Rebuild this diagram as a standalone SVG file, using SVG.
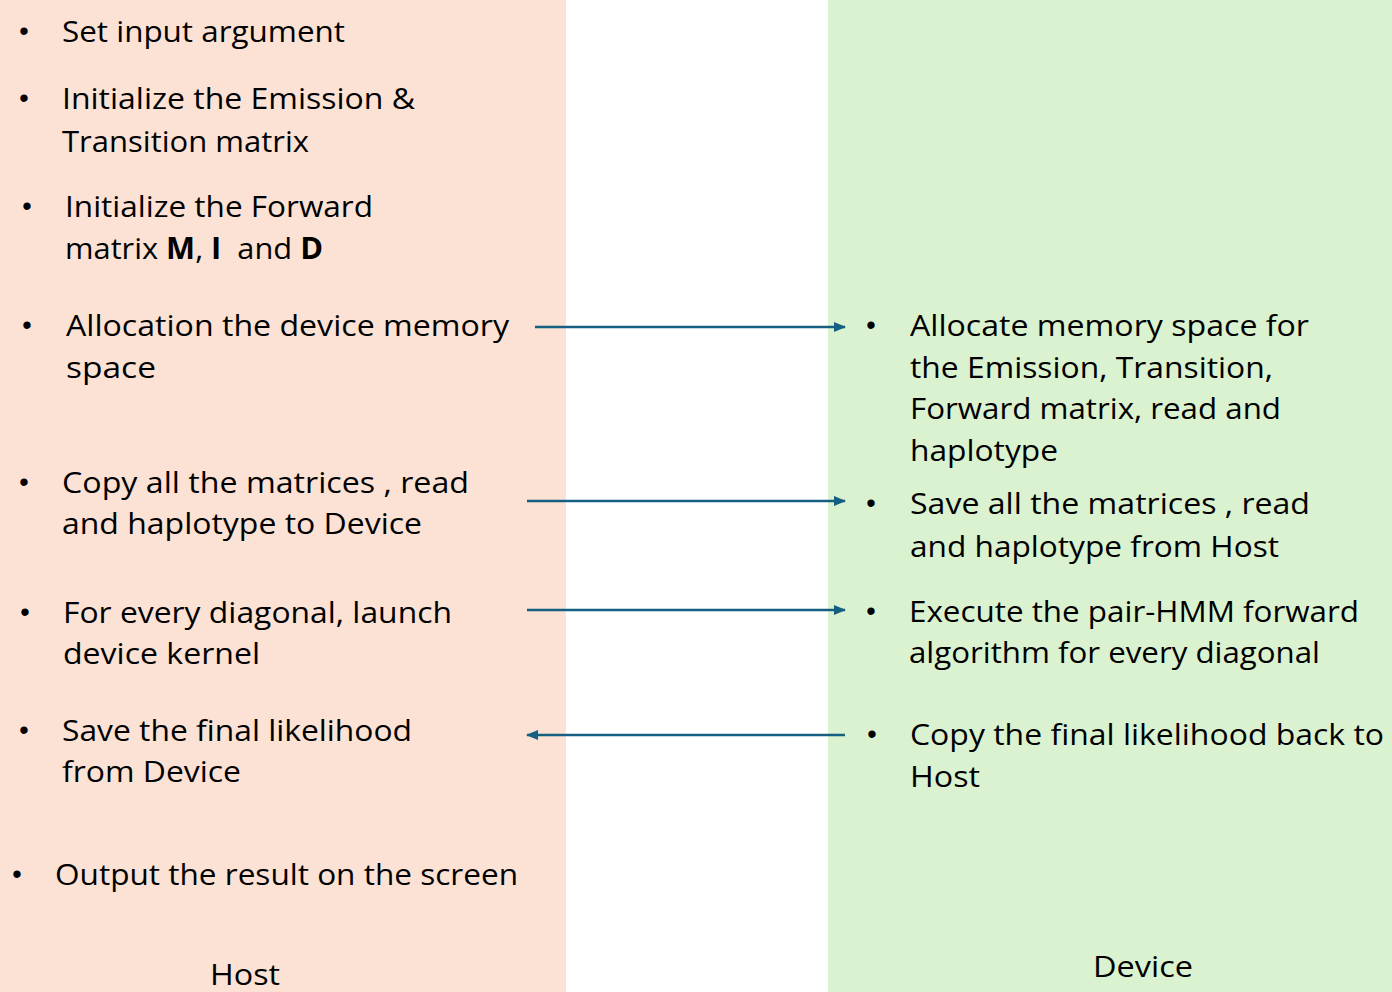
<svg xmlns="http://www.w3.org/2000/svg" width="1392" height="992" viewBox="0 0 1392 992">
<style>
text{font-family:"Open Sans","Noto Sans","Liberation Sans",sans-serif;font-size:30px;fill:#000}
text.b{text-anchor:middle;font-family:"Liberation Sans",Arial,sans-serif;font-size:27px}
.bold{font-weight:700}
.conn{stroke:#156082;stroke-width:2.6;fill:none}
</style>
<defs>
<marker id="ah" viewBox="0 0 12 10" refX="11" refY="5" markerWidth="12" markerHeight="10" markerUnits="userSpaceOnUse" orient="auto-start-reverse">
<path d="M0,0 L12,5 L0,10 Z" fill="#156082"/>
</marker>
</defs>
<rect id="host-panel" x="0" y="0" width="566" height="992" fill="#FBE2D5"/>
<rect id="device-panel" x="828" y="0" width="564" height="992" fill="#DAF2D0"/>

<g id="h1"><text class="b" x="24" y="40">•</text><text x="62" y="42" textLength="283" lengthAdjust="spacingAndGlyphs">Set input argument</text></g>
<g id="h2"><text class="b" x="24" y="107">•</text><text x="62" y="109" textLength="353" lengthAdjust="spacingAndGlyphs">Initialize the Emission &amp;</text><text x="62" y="152" textLength="247" lengthAdjust="spacingAndGlyphs">Transition matrix</text></g>
<g id="h3"><text class="b" x="27" y="215">•</text><text x="65" y="217" textLength="308" lengthAdjust="spacingAndGlyphs">Initialize the Forward</text><text x="65" y="259" textLength="258" lengthAdjust="spacingAndGlyphs">matrix <tspan class="bold">M</tspan>, <tspan class="bold">I</tspan>&#160; and <tspan class="bold">D</tspan></text></g>
<g id="h4"><text class="b" x="27" y="334">•</text><text x="66" y="336" textLength="443" lengthAdjust="spacingAndGlyphs">Allocation the device memory</text><text x="66" y="378" textLength="90" lengthAdjust="spacingAndGlyphs">space</text></g>
<g id="h5"><text class="b" x="24" y="491">•</text><text x="62" y="493" textLength="407" lengthAdjust="spacingAndGlyphs">Copy all the matrices , read</text><text x="62" y="534" textLength="360" lengthAdjust="spacingAndGlyphs">and haplotype to Device</text></g>
<g id="h6"><text class="b" x="25" y="621">•</text><text x="63" y="623" textLength="389" lengthAdjust="spacingAndGlyphs">For every diagonal, launch</text><text x="63" y="664" textLength="197" lengthAdjust="spacingAndGlyphs">device kernel</text></g>
<g id="h7"><text class="b" x="24" y="739">•</text><text x="62" y="741" textLength="350" lengthAdjust="spacingAndGlyphs">Save the final likelihood</text><text x="62" y="782" textLength="179" lengthAdjust="spacingAndGlyphs">from Device</text></g>
<g id="h8"><text class="b" x="17" y="883">•</text><text x="55" y="885" textLength="463" lengthAdjust="spacingAndGlyphs">Output the result on the screen</text></g>
<g id="host-label"><text x="210" y="985" textLength="70" lengthAdjust="spacingAndGlyphs">Host</text></g>

<g id="d1"><text class="b" x="871" y="334">•</text><text x="910" y="336" textLength="399" lengthAdjust="spacingAndGlyphs">Allocate memory space for</text><text x="910" y="378" textLength="363" lengthAdjust="spacingAndGlyphs">the Emission, Transition,</text><text x="910" y="419" textLength="371" lengthAdjust="spacingAndGlyphs">Forward matrix, read and</text><text x="910" y="461" textLength="148" lengthAdjust="spacingAndGlyphs">haplotype</text></g>
<g id="d2"><text class="b" x="871" y="512">•</text><text x="910" y="514" textLength="400" lengthAdjust="spacingAndGlyphs">Save all the matrices , read</text><text x="910" y="557" textLength="369" lengthAdjust="spacingAndGlyphs">and haplotype from Host</text></g>
<g id="d3"><text class="b" x="871" y="620">•</text><text x="909" y="622" textLength="450" lengthAdjust="spacingAndGlyphs">Execute the pair-HMM forward</text><text x="909" y="663" textLength="411" lengthAdjust="spacingAndGlyphs">algorithm for every diagonal</text></g>
<g id="d4"><text class="b" x="872" y="743">•</text><text x="910" y="745" textLength="474" lengthAdjust="spacingAndGlyphs">Copy the final likelihood back to</text><text x="910" y="787" textLength="70" lengthAdjust="spacingAndGlyphs">Host</text></g>
<g id="device-label"><text x="1093" y="977" textLength="100" lengthAdjust="spacingAndGlyphs">Device</text></g>

<g id="connectors">
<line class="conn" x1="535" y1="327" x2="845" y2="327" marker-end="url(#ah)"/>
<line class="conn" x1="527" y1="501" x2="845" y2="501" marker-end="url(#ah)"/>
<line class="conn" x1="527" y1="610" x2="845" y2="610" marker-end="url(#ah)"/>
<line class="conn" x1="845" y1="735" x2="527" y2="735" marker-end="url(#ah)"/>
</g>
</svg>
